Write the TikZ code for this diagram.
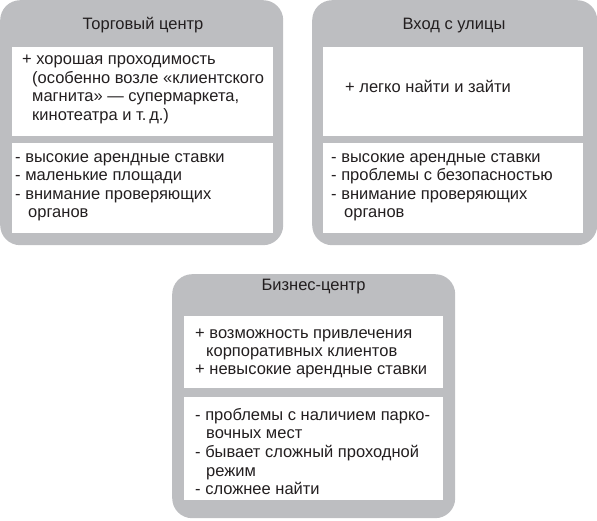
\documentclass[tikz,border=0pt]{standalone}
\usepackage{fontspec}
\setmainfont{Liberation Sans}
\definecolor{boxgray}{RGB}{189,190,193}
\definecolor{txt}{RGB}{35,31,32}
\begin{document}
\begin{tikzpicture}[x=1pt,y=-1pt,
 outer/.style={fill=boxgray, rounded corners=20pt, inner sep=0pt, anchor=north west},
 inner/.style={fill=white, inner sep=0pt, anchor=north west},
 ttl/.style={font=\fontsize{16.5}{18}\selectfont, text=txt, anchor=base, inner sep=0pt},
 ln/.style={font=\fontsize{16.5}{18}\selectfont, text=txt, anchor=base west, inner sep=0pt}]
\useasboundingbox (0,0) rectangle (597,521);
% box 1
\node[outer, minimum width=283pt, minimum height=245pt] (b1) at (0,0) {};
\node[inner, minimum width=261pt, minimum height=89pt] (w1a) at (12,47) {};
\node[inner, minimum width=261pt, minimum height=90pt] (w1b) at (12,143) {};
\node[ttl] (t1) at (143,30) {Торговый центр};
\node[ln] (a1) at (22,65) {+ хорошая проходимость};
\node[ln] (a2) at (32,84) {(особенно возле «клиентского};
\node[ln] (a3) at (32,102) {магнита» — супермаркета,};
\node[ln] (a4) at (32,120.5) {кинотеатра и т.\,д.)};
\node[ln] (c1) at (15,162.5) {- высокие арендные ставки};
\node[ln] (c2) at (15,181) {- маленькие площади};
\node[ln] (c3) at (15,199.5) {- внимание проверяющих};
\node[ln] (c4) at (28,218) {органов};
% box 2
\node[outer, minimum width=285pt, minimum height=245pt] (b2) at (312,0) {};
\node[inner, minimum width=260pt, minimum height=89pt] (w2a) at (323,47) {};
\node[inner, minimum width=260pt, minimum height=90pt] (w2b) at (323,143) {};
\node[ttl] (t2) at (454,30) {Вход с улицы};
\node[ln] (d1) at (345,93) {+ легко найти и зайти};
\node[ln] (e1) at (331,162.5) {- высокие арендные ставки};
\node[ln] (e2) at (331,181) {- проблемы с безопасностью};
\node[ln] (e3) at (331,199.5) {- внимание проверяющих};
\node[ln] (e4) at (344,218) {органов};
% box 3
\node[outer, minimum width=283pt, minimum height=244pt] (b3) at (172,274) {};
\node[inner, minimum width=259pt, minimum height=72pt] (w3a) at (184,316) {};
\node[inner, minimum width=259pt, minimum height=103pt] (w3b) at (184,397) {};
\node[ttl] (t3) at (313.5,290.5) {Бизнес-центр};
\node[ln] (f1) at (195,338) {+ возможность привлечения};
\node[ln] (f2) at (206,356) {корпоративных клиентов};
\node[ln] (f3) at (195,374) {+ невысокие арендные ставки};
\node[ln] (g1) at (195,420) {- проблемы с наличием парко-};
\node[ln] (g2) at (206,438.5) {вочных мест};
\node[ln] (g3) at (195,457.5) {- бывает сложный проходной};
\node[ln] (g4) at (206,476) {режим};
\node[ln] (g5) at (195,494) {- сложнее найти};
\end{tikzpicture}
\end{document}
